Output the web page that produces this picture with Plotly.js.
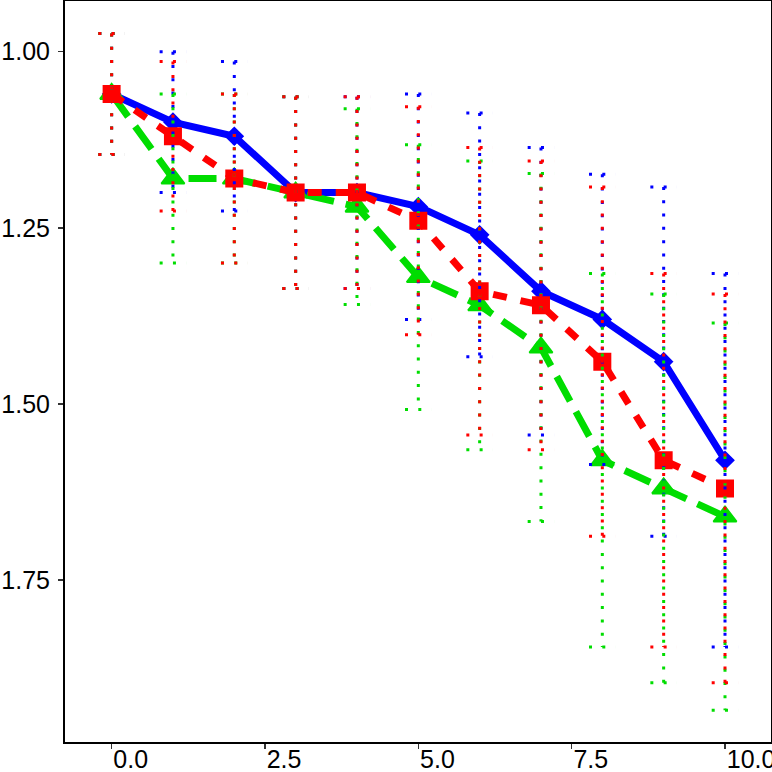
<!DOCTYPE html>
<html>
<head>
<meta charset="utf-8">
<script src="https://cdn.plot.ly/plotly-3.0.1.min.js"></script>
<style>html,body{margin:0;padding:0;background:#fff;}</style>
</head>
<body>
<div id="chart" style="width:772px;height:772px;"></div>
<script>
// x positions shared by all three series
var steps = [0, 1, 2, 3, 4, 5, 6, 7, 8, 9, 10];

var blueMean = [1.06, 1.10, 1.12, 1.20, 1.20, 1.22, 1.26, 1.34, 1.38, 1.44, 1.58];
var blueErr  = [0.086, 0.100, 0.106, 0.136, 0.136, 0.160, 0.173, 0.204, 0.206, 0.248, 0.265];

var redMean = [1.06, 1.12, 1.18, 1.20, 1.20, 1.24, 1.34, 1.36, 1.44, 1.58, 1.62];
var redErr  = [0.086, 0.106, 0.120, 0.136, 0.136, 0.162, 0.204, 0.205, 0.248, 0.265, 0.276];

var greenMean = [1.06, 1.18, 1.18, 1.20, 1.22, 1.32, 1.36, 1.42, 1.58, 1.62, 1.66];
var greenErr  = [0.086, 0.120, 0.120, 0.136, 0.139, 0.188, 0.205, 0.247, 0.265, 0.276, 0.275];

var xTicks = [0, 2.5, 5, 7.5, 10];
var yTicks = [1.00, 1.25, 1.50, 1.75];

var BLUE = '#0000FF', RED = '#FF0000', GREEN = '#00DD00';
var CAP = 0.217; // half cap width, x units

function lineTrace(means, color, dash, symbol, size) {
  return {
    x: steps, y: means, mode: 'lines+markers', hoverinfo: 'skip',
    line: {color: color, width: 7, dash: dash},
    marker: {symbol: symbol, size: size, color: color, line: {color: color, width: 2}}
  };
}

// dotted error bars with dotted caps (plotly's error_y can't be dashed)
function errorTrace(means, errs, color) {
  var xs = [], ys = [];
  steps.forEach(function (s, i) {
    var lo = means[i] - errs[i], hi = means[i] + errs[i];
    xs.push(s, s, null, s - CAP, s + CAP, null, s - CAP, s + CAP, null);
    ys.push(lo, hi, null, lo, lo, null, hi, hi, null);
  });
  return {
    x: xs, y: ys, mode: 'lines', hoverinfo: 'skip',
    line: {color: color, width: 3, dash: '3px,10.3px'}
  };
}

var data = [
  lineTrace(blueMean, BLUE, 'solid', 'diamond', 13),
  lineTrace(greenMean, GREEN, '28px,12px', 'triangle-up', 20),
  lineTrace(redMean, RED, '14px,14px', 'square', 16),
  errorTrace(blueMean, blueErr, BLUE),
  errorTrace(greenMean, greenErr, GREEN),
  errorTrace(redMean, redErr, RED)
];

var tickFont = {family: 'Liberation Sans, Arial, sans-serif', size: 25, color: '#000'};

var layout = {
  width: 772, height: 772,
  margin: {l: 65, r: 1, t: 1, b: 30},
  paper_bgcolor: '#fff', plot_bgcolor: '#fff',
  showlegend: false,
  xaxis: {
    range: [-0.76, 10.75], tickvals: xTicks, tickformat: '.1f',
    ticks: 'outside', ticklen: 5, tickwidth: 1.5, tickcolor: '#333',
    ticklabelposition: 'outside right', ticklabeloverflow: 'allow',
    ticklabelstandoff: -6,
    showline: true, linecolor: '#000', linewidth: 2, mirror: true,
    showgrid: false, zeroline: false, tickfont: tickFont
  },
  yaxis: {
    range: [1.98, 0.928], tickvals: yTicks, tickformat: '.2f',
    ticks: 'outside', ticklen: 5, tickwidth: 1.5, tickcolor: '#333',
    ticklabelstandoff: 3,
    showline: true, linecolor: '#000', linewidth: 2, mirror: true,
    showgrid: false, zeroline: false, tickfont: tickFont
  }
};

Plotly.newPlot('chart', data, layout, {displayModeBar: false, staticPlot: true});
</script>
</body>
</html>
